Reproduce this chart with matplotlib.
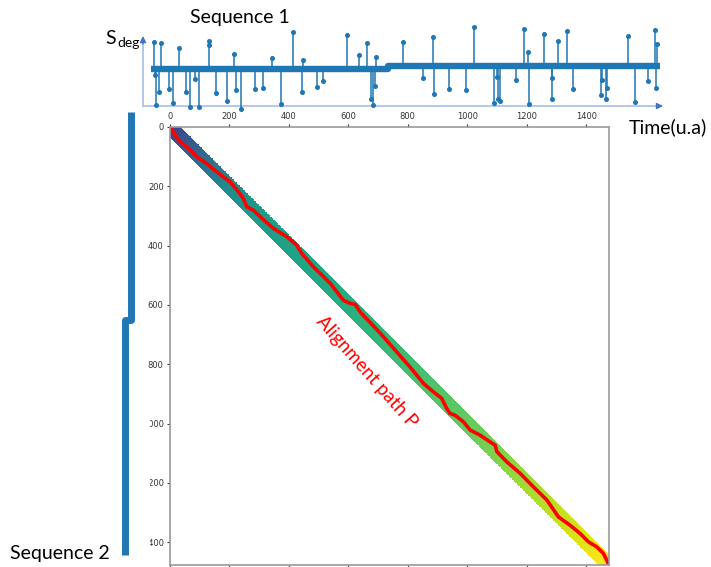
import numpy as np
import matplotlib
matplotlib.use("Agg")
import matplotlib.pyplot as plt

# ---------------- data ----------------
# Sequence 1 (time index, value relative to baseline)
seq1_step_time = 700
seq1_levels = [0.0, 3.3]
seq1_length = 1500
seq1_up_t = [9, 32, 85, 172, 245, 357, 418, 448, 578, 613, 637, 663, 743, 831, 953,
             1098, 1112, 1157, 1198, 1226, 1405, 1484, 1489]
seq1_up_v = [27, 26, 21, 28, 15, 11, 37, 9, 34, 14, 26, 12, 27, 32, 42,
             40, 17, 35, 28, 38, 33, 39, 25]
seq1_down_t = [13, 17, 25, 53, 67, 105, 117, 132, 143, 192, 225, 250, 266, 308, 332,
               385, 446, 490, 508, 649, 654, 660, 803, 834, 879, 929, 1010, 1019, 1023,
               1028, 1076, 1113, 1180, 1181, 1242, 1328, 1326, 1340, 1344, 1425, 1464, 1487]
seq1_down_v = [-6, -36, -23, -20, -34, -23, -38, -10, -38, -24, -32, -21, -40, -20, -19,
               -35, -23, -18, -12, -30, -36, -17, -9, -25, -20, -21, -34, -8, -30,
               -32, -11, -35, -9, -30, -20, -11, -26, -30, -19, -33, -12, -19]

# Sequence 2 (index, level)
seq2_length = 1477
seq2_step_index = 692
seq2_levels = [0.0, -6.0]

# DTW accumulated-cost band
N = 1477
band_halfwidth = 36
cost_pos = [0, 50, 120, 200, 300, 500, 700, 900, 1050, 1200, 1350, 1477]
cost_val = [0.20, 0.27, 0.37, 0.48, 0.55, 0.60, 0.66, 0.73, 0.78, 0.86, 0.93, 1.0]

# alignment path P
path_x = [0, 6, 17, 34, 62, 90, 123, 157, 202, 230, 247, 258, 280, 309, 348, 393, 426, 443,
          482, 539, 583, 606, 623, 640, 707, 757, 808, 853, 886, 914, 931, 942, 959, 987,
          1010, 1043, 1077, 1094, 1100, 1133, 1178, 1223, 1268, 1307, 1346, 1380, 1408,
          1436, 1458, 1472, 1477]
path_y = [0, 8, 27, 50, 72, 100, 123, 151, 185, 218, 241, 269, 280, 308, 342, 370, 398, 426,
          471, 527, 584, 595, 598, 624, 695, 752, 810, 865, 893, 915, 949, 966, 972, 994,
          1022, 1039, 1062, 1073, 1095, 1129, 1168, 1214, 1258, 1315, 1343, 1371, 1399,
          1416, 1438, 1466, 1477]

ticks = [0, 200, 400, 600, 800, 1000, 1200, 1400]

# ---------------- figure ----------------
W, H = 711, 567
fig = plt.figure(figsize=(W / 100, H / 100), dpi=100)


def rect(x0, y0, x1, y1):
    return [x0 / W, 1 - y1 / H, (x1 - x0) / W, (y1 - y0) / H]


# main matrix axes
ax = fig.add_axes(rect(170, 127, 609, 565))
ii, jj = np.mgrid[0:N, 0:N]
val = np.interp((ii + jj) / 2.0, cost_pos, cost_val)
val[np.abs(ii - jj) > band_halfwidth] = np.nan
ax.imshow(val, cmap="viridis", vmin=0, vmax=1, extent=(0, N, N, 0),
          interpolation="nearest", aspect="auto")
ax.plot(path_x, path_y, color="red", lw=2.6, solid_joinstyle="round")
ax.set_xlim(0, N)
ax.set_ylim(N, 0)
ax.set_xticks(ticks)
ax.set_yticks(ticks)
ax.tick_params(axis="x", top=True, bottom=True, labeltop=True, labelbottom=False,
               length=2.5, pad=1.5, labelsize=6, colors="#333333", width=0.8)
ax.tick_params(axis="y", left=True, length=2.5, pad=2, labelsize=6, colors="#333333",
               width=0.8)
for s in ax.spines.values():
    s.set_color("#9a9a9a")
    s.set_linewidth(1.2)
ax.text(663, 827, "Alignment path P", color="red", fontsize=13.5, family="Lato",
        rotation=-48.5, rotation_mode="anchor", ha="center", va="center")

# sequence 2 axes (white background covers part of the y labels)
cover_right = 149.8
ax2 = fig.add_axes(rect(112, 395, cover_right, 567))
ax2b = fig.add_axes(rect(112, 108, 145, 395))
for a in (ax2, ax2b):
    idx2 = [0, seq2_step_index, seq2_step_index, seq2_length]
    lev2 = [seq2_levels[0], seq2_levels[0], seq2_levels[1], seq2_levels[1]]
    a.plot(lev2, idx2, color="#1f77b4", lw=5, solid_capstyle="butt")
    a.set_xticks([])
    a.set_yticks([])
    for s in a.spines.values():
        s.set_visible(False)
# same data scale in both pieces (1 unit = 1 px horizontally)
ax2.set_xlim(112 - 130.5, cover_right - 130.5)
ax2b.set_xlim(112 - 130.5, 145 - 130.5)
s_per_px = 1477 / 443.0
ax2.set_ylim((567 - 112) * s_per_px, (395 - 112) * s_per_px)
ax2b.set_ylim((395 - 112) * s_per_px, (108 - 112) * s_per_px)

# sequence 1 axes
ax1 = fig.add_axes(rect(140, 20, 665, 112))
ax1.patch.set_alpha(0)
px0, pxs = 150.6, 0.3398
ax1.set_xlim((140 - px0) / pxs, (665 - px0) / pxs)
ax1.set_ylim(69 - 112, 69 - 20)
for s in ax1.spines.values():
    s.set_visible(False)
ax1.set_xticks([])
ax1.set_yticks([])


def base1(t):
    return seq1_levels[0] if t < seq1_step_time else seq1_levels[1]


ax1.plot([0, seq1_step_time, seq1_step_time, seq1_length],
         [seq1_levels[0], seq1_levels[0], seq1_levels[1], seq1_levels[1]],
         color="#1f77b4", lw=4.6, solid_capstyle="butt", zorder=3)
all_t = seq1_up_t + seq1_down_t
all_v = seq1_up_v + seq1_down_v
ax1.vlines(all_t, [base1(t) for t in all_t], all_v, color="#1f77b4", lw=1.1, zorder=3)
ax1.plot(all_t, all_v, "o", color="#1f77b4", ms=2.6, zorder=4)
ax1.plot([172], [24], "o", color="#1f77b4", ms=2.6, zorder=4)

# axis arrows for sequence 1
ax_t0 = (143 - px0) / pxs
ax_t1 = (663 - px0) / pxs
ax_v0 = 69 - 106
arrow_kw = dict(arrowstyle="-|>", color="#4472c4", lw=1.0, mutation_scale=9,
                shrinkA=0, shrinkB=0)
ax1.plot([ax_t0, ax_t1 - 8], [ax_v0, ax_v0], color="#a9bfe6", lw=1.2, zorder=1,
         clip_on=False)
ax1.plot([ax_t0, ax_t0], [ax_v0, 69 - 40], color="#a9bfe6", lw=1.2, zorder=1,
         clip_on=False)
ax1.annotate("", xy=(ax_t1, ax_v0), xytext=(ax_t1 - 12, ax_v0),
             arrowprops=arrow_kw, annotation_clip=False)
ax1.annotate("", xy=(ax_t0, 69 - 36), xytext=(ax_t0, 69 - 44),
             arrowprops=arrow_kw, annotation_clip=False)

# texts
fig.text(240 / W, 1 - 18 / H, "Sequence 1", fontsize=14, family="Lato",
         ha="center", va="center")
fig.text(105 / W, 1 - 38 / H, "S", fontsize=14, family="Lato", ha="left", va="center")
fig.text(117 / W, 1 - 43 / H, "deg", fontsize=10, family="Lato", ha="left", va="center")
fig.text(668 / W, 1 - 127 / H, "Time(u.a)", fontsize=14, family="Lato",
         ha="center", va="center")
fig.text(10 / W, 1 - 554 / H, "Sequence 2", fontsize=14, family="Lato",
         ha="left", va="center")

fig.savefig("out.png", dpi=100)
